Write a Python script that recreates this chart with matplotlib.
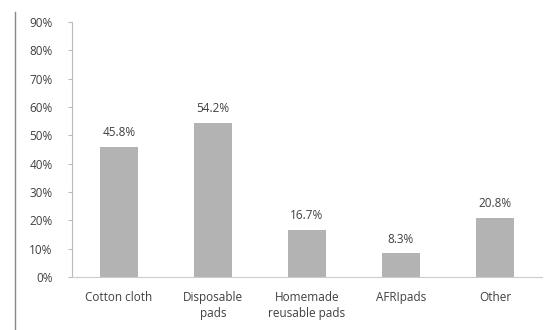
import matplotlib.pyplot as plt
from matplotlib.lines import Line2D
from matplotlib.ticker import FuncFormatter

categories = ['Cotton cloth', 'Disposable\npads', 'Homemade\nreusable pads', 'AFRIpads', 'Other']
values = [45.8, 54.2, 16.7, 8.3, 20.8]
labels = ['45.8%', '54.2%', '16.7%', '8.3%', '20.8%']

plt.rcParams['font.family'] = ['Open Sans', 'DejaVu Sans']

fig = plt.figure(figsize=(5.58, 3.3), dpi=100)
ax = fig.add_axes([72 / 558, 53 / 330, 470 / 558, 255 / 330])

x = range(len(categories))
ax.bar(x, values, width=0.4, color='#b3b3b3')
for i, v in enumerate(values):
    ax.text(i, v + 2.8, labels[i], ha='center', va='bottom', fontsize=8.5, color='#404040')

ax.set_xlim(-0.5, 4.5)
ax.set_ylim(0, 90)
ax.set_yticks(range(0, 100, 10))
ax.yaxis.set_major_formatter(FuncFormatter(lambda v, p: f'{int(v)}%'))
ax.set_xticks(list(x))
ax.set_xticklabels(categories, fontsize=8.5, color='#404040', linespacing=1.3)
ax.tick_params(axis='y', labelsize=8.5, labelcolor='#404040', length=3, color='#bbbbbb', pad=11)
ax.tick_params(axis='x', length=0, pad=10)

for s in ['top', 'right']:
    ax.spines[s].set_visible(False)
ax.spines['left'].set_color('#bbbbbb')
ax.spines['bottom'].set_color('#cccccc')

fig.add_artist(Line2D([15 / 558, 15 / 558], [0, 318 / 330], color='#888888', lw=1))

plt.savefig('out.png')
